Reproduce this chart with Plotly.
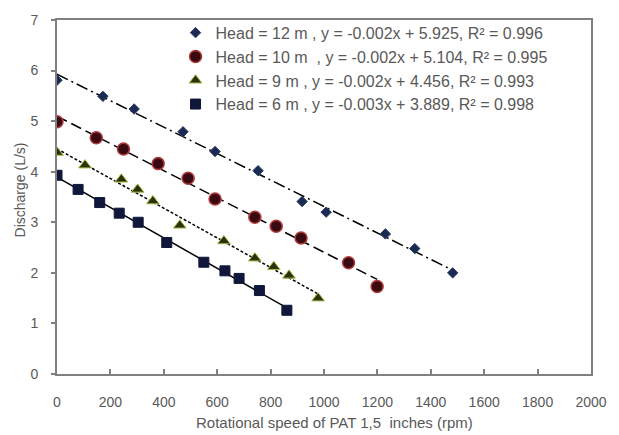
import numpy as np
import plotly.graph_objects as go

# Head = 12 m
x12 = [0, 172, 289, 472, 592, 753, 918, 1008, 1230, 1340, 1482]
y12 = [5.81, 5.49, 5.24, 4.79, 4.40, 4.02, 3.41, 3.20, 2.77, 2.48, 2.00]
# Head = 10 m
x10 = [0, 147, 249, 379, 491, 592, 741, 821, 914, 1092, 1199]
y10 = [4.99, 4.67, 4.45, 4.16, 3.87, 3.46, 3.10, 2.92, 2.69, 2.20, 1.73]
# Head = 9 m
x9 = [0, 105, 241, 302, 359, 460, 625, 741, 812, 869, 978]
y9 = [4.38, 4.13, 3.85, 3.65, 3.42, 2.94, 2.63, 2.29, 2.12, 1.95, 1.50]
# Head = 6 m
x6 = [0, 79, 160, 233, 304, 411, 550, 629, 682, 758, 861]
y6 = [3.93, 3.65, 3.39, 3.18, 3.00, 2.60, 2.21, 2.04, 1.89, 1.65, 1.26]

names = [
    "Head = 12 m , y = -0.002x + 5.925, R² = 0.996",
    "Head = 10 m  , y = -0.002x + 5.104, R² = 0.995",
    "Head = 9 m , y = -0.002x + 4.456, R² = 0.993",
    "Head = 6 m , y = -0.003x + 3.889, R² = 0.998",
]
x_title = "Rotational speed of PAT 1,5  inches (rpm)"
y_title = "Discharge (L/s)"

series = [
    (x12, y12, names[0], dict(symbol="diamond", size=8, color="#1b2a52", line=dict(color="#2a3a66", width=1)), "12px,4px,2px,4px"),
    (x10, y10, names[1], dict(symbol="circle", size=12, color="#3a0a12", line=dict(color="#b03a3a", width=1.5)), "11px,5px"),
    (x9, y9, names[2], dict(symbol="triangle-up", size=11, color="#2b3205", line=dict(color="#a8b848", width=1)), "3px,2px"),
    (x6, y6, names[3], dict(symbol="square", size=10, color="#10173a", line=dict(color="#10173a", width=1)), "solid"),
]

fig = go.Figure()
for xs, ys, nm, mk, dash in series:
    xa = np.array(xs, dtype=float)
    ya = np.array(ys, dtype=float)
    m, b = np.polyfit(xa, ya, 1)
    xl = np.array([0.0, xa.max()])
    fig.add_trace(go.Scatter(x=xl, y=m * xl + b, mode="lines",
                             line=dict(color="black", width=1.5, dash=dash),
                             showlegend=False, hoverinfo="skip"))
for xs, ys, nm, mk, dash in series:
    fig.add_trace(go.Scatter(x=xs, y=ys, mode="markers", name=nm, marker=mk))

axis_font = dict(family="Liberation Sans, Arial, sans-serif", size=14, color="#595959")
fig.update_layout(
    width=619, height=435,
    margin=dict(l=57, r=16, t=15, b=61),
    paper_bgcolor="white", plot_bgcolor="white",
    font=dict(family="Liberation Sans, Arial, sans-serif", size=13, color="#595959"),
    legend=dict(x=0.222, y=1.012, xanchor="left", yanchor="top",
                bgcolor="rgba(0,0,0,0)", font=dict(size=16, color="#595959"),
                tracegroupgap=0, itemwidth=30),
    xaxis=dict(range=[0, 2000], dtick=200, tick0=0, showgrid=False, zeroline=False,
               showline=True, linecolor="#808080", linewidth=2, mirror=True,
               ticks="inside", ticklen=5, tickcolor="#808080", tickwidth=2,
               ticklabelstandoff=14, tickfont=axis_font),
    yaxis=dict(range=[0, 7], dtick=1, showgrid=False, zeroline=False,
               showline=True, linecolor="#808080", linewidth=2, mirror=True,
               ticks="outside", ticklen=4, tickcolor="#808080", tickwidth=2,
               ticklabelstandoff=10, tickfont=axis_font),
    annotations=[
        dict(text=x_title, xref="paper", yref="paper", x=(341 - 57) / 546, y=-(423 - 374) / 359,
             xanchor="center", yanchor="middle", showarrow=False,
             font=dict(size=15, color="#595959")),
        dict(text=y_title, xref="paper", yref="paper", x=-(57 - 19) / 546, y=(374 - 187) / 359,
             xanchor="center", yanchor="middle", showarrow=False, textangle=-90,
             font=dict(size=14, color="#595959")),
    ],
)
fig.write_html("out.html")
